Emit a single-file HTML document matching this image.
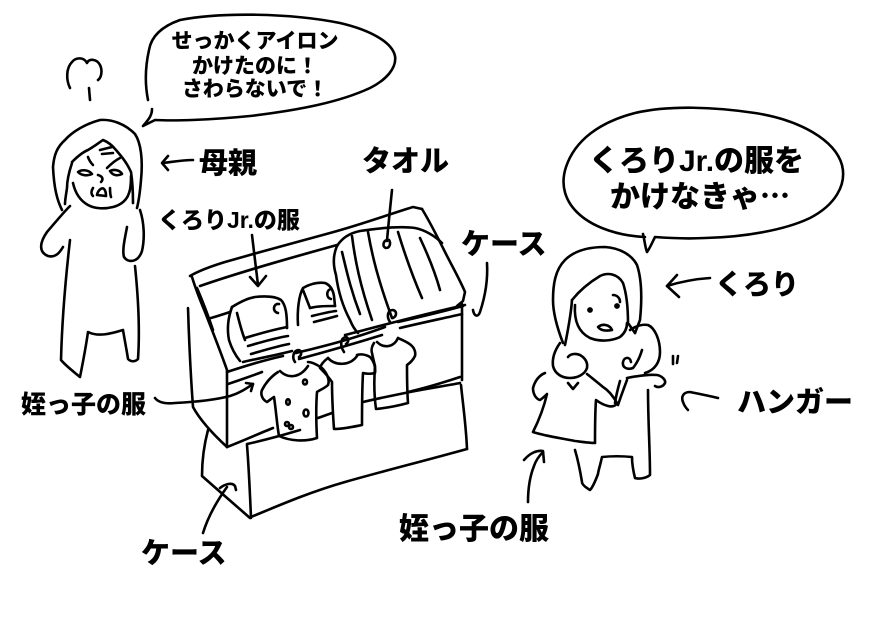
<!DOCTYPE html>
<html>
<head>
<meta charset="utf-8">
<style>
html,body{margin:0;padding:0;background:#fff;}
svg{display:block;}
text{font-family:"Liberation Sans","Noto Sans CJK JP",sans-serif;font-weight:900;fill:#000;}
</style>
</head>
<body>
<svg width="890" height="629" viewBox="0 0 890 629" xmlns="http://www.w3.org/2000/svg">
<rect x="0" y="0" width="890" height="629" fill="#fff"/>
<g fill="none" stroke="#000" stroke-width="2.6" stroke-linecap="round" stroke-linejoin="round">

<!-- Speech bubble 1 -->
<path d="M148,100 C145,85 145,68 149,50 C151,38 160,27 180,20 C220,12 290,13 340,23 C370,30 392,42 395,56 C397,68 386,80 370,88 C340,102 300,110 250,116 C210,120 175,121 155,120 L143,126 C148,120 152,116 152,109"/>

<!-- steam -->
<path d="M70,88 C66,80 66,68 72,62 C76,57 84,57 87,63 C89,58 97,59 100,65 C103,71 101,78 98,80"/>
<path d="M89,88 L90,100"/>

<!-- Mother -->
<path d="M62,210 C57,200 54,188 53,167 C54,155 57,147 65,140 C72,132 85,124 100,120 C112,119 125,124 135,134 C141,143 143,160 141,180 C140,192 139,200 137,208"/>
<path d="M72,162 C78,156 83,152 88,150 C95,146 100,142 103,140 C108,142 112,145 116,150 C122,157 127,163 131,172 C133,185 133,195 133,203"/>
<path d="M72,163 C69,172 67,180 67,188 C66,195 65,200 65,204"/>
<path d="M73,183 C75,192 79,200 88,205 C95,209 105,209 113,207 C121,205 127,200 129,193 C131,188 131,182 131,176"/>
<path d="M100,150 L112,147"/>
<path d="M102,154 L113,153"/>
<path d="M88,157 C89,160 91,163 93,165"/>
<path d="M107,168 C111,164 116,160 120,158"/>
<path d="M78,172 C82,169 89,170 92,174 C88,176 82,176 78,172 Z"/>
<path d="M110,171 C114,169 120,170 122,174 C118,176 113,176 110,171 Z"/>
<path d="M98,175 C102,176 104,179 101,182"/>
<path d="M93,188 C91,191 91,194 93,196"/>
<path d="M97,195 C98,190 102,187 104,189 C106,191 106,194 106,196 Z"/>
<path d="M110,188 C110,191 110,194 111,197"/>
<!-- mother arms/body -->
<path d="M70,206 C62,214 54,224 47,232 C40,242 38,252 48,256 C56,258 60,252 63,247"/>
<path d="M70,240 C66,275 62,320 61,360 C66,366 74,372 80,377 C83,362 86,346 88,332 C98,337 110,334 123,330 C125,342 127,352 128,359 C131,362 135,362 138,359 C140,330 138,295 135,266"/>
<path d="M127,227 C125,238 122,250 124,257 C128,263 138,263 142,251 C145,238 144,222 140,210"/>

<!-- arrow to mother -->
<path d="M193,160 C182,160 172,162 163,163"/>
<path d="M168,156 L162,163 L168,170"/>

<!-- Kurori Jr arrow -->
<path d="M252,235 C254,252 256,268 258,285"/>
<path d="M250,277 L258,286 L266,276"/>

<!-- towel tag line -->
<path d="M392,190 C390,210 388,228 387,241"/>
<path d="M387,240 C383,241 382,247 386,248 C390,248 391,243 389,240"/>

<!-- CASE upper -->
<path d="M190,276 C200,270 212,266 225,262 C260,252 300,241 330,233 C360,225 390,214 413,207 L422,209"/>
<path d="M200,286 C240,272 290,258 337,245"/>
<path d="M422,209 C430,222 438,238 445,252 C452,266 460,280 465,292 L463,301 L457,306"/>
<path d="M192,277 C196,290 200,300 205,312 C212,330 220,350 227,370"/>
<path d="M197,288 C203,302 208,315 213,330"/>
<path d="M188,308 C189,340 191,380 193,407 C200,420 214,435 227,447"/>
<path d="M227,370 L227,447"/>
<path d="M227,372 C245,366 265,360 283,356"/>
<path d="M228,384 C240,380 252,376 262,372"/>
<path d="M211,318 C218,316 224,314 230,312"/>
<path d="M227,447 C240,442 258,434 273,428"/>
<path d="M408,392 C425,388 445,382 460,377"/>
<path d="M462,304 C462,330 462,355 462,380"/>
<!-- CASE lower -->
<path d="M208,430 C204,445 202,460 202,476 C218,490 235,505 250,518"/>
<path d="M247,445 C249,470 250,495 251,518"/>
<path d="M247,444 C265,440 280,436 300,430"/>
<path d="M318,418 L332,413"/>
<path d="M363,402 C380,398 395,395 410,392 C430,388 445,386 460,383"/>
<path d="M461,385 C463,405 466,425 467,449"/>
<path d="M251,517 C280,505 310,492 345,482 C380,472 420,462 467,449"/>

<!-- folded clothes 1 -->
<path d="M232,307 C240,302 248,298 255,297 C265,296 275,296 281,300 C286,305 287,315 287,328"/>
<path d="M232,307 C228,318 227,330 229,340 C232,350 236,356 240,361"/>
<path d="M237,313 C240,325 243,335 245,340"/>
<path d="M245,338 C258,334 272,330 287,327"/>
<path d="M248,346 C262,342 275,338 288,336"/>
<path d="M251,354 C265,350 278,346 289,344"/>
<path d="M243,362 C260,358 277,355 292,351"/>
<path d="M279,304 C273,303 272,312 278,313"/>
<!-- folded clothes 2 -->
<path d="M298,325 C297,310 299,295 303,288 C310,284 318,282 325,283 C330,285 333,290 334,296 L335,306"/>
<path d="M303,290 L310,308"/>
<path d="M310,308 C318,306 326,306 335,306"/>
<path d="M312,316 C320,314 328,312 336,311"/>
<path d="M314,322 C322,320 330,318 337,316"/>
<path d="M331,289 C326,290 326,298 331,299"/>

<!-- towels -->
<path d="M337,246 C333,255 333,265 336,275 C338,290 342,305 350,320 C352,325 355,330 358,333"/>
<path d="M337,246 C342,238 350,233 360,231 C380,228 400,226 415,228 C425,230 435,236 442,243"/>
<path d="M352,236 C355,260 360,285 372,320"/>
<path d="M368,232 C372,255 378,280 392,318"/>
<path d="M398,232 C405,255 412,275 422,298"/>
<path d="M420,238 C428,255 435,272 440,290"/>
<path d="M342,252 C346,268 350,288 360,314"/>
<path d="M345,335 C380,326 420,315 465,305"/>

<!-- hanger rod -->
<path d="M296,353 C320,347 350,340 385,327"/>
<path d="M299,359 C325,352 350,345 382,335"/>
<path d="M398,322 C420,317 445,311 463,306"/>
<path d="M400,328 C425,322 445,318 462,314"/>

<!-- shirt 1 dotted -->
<path d="M278,372 C272,376 266,382 262,390 C260,395 263,400 267,402 C270,400 272,398 274,397 C276,410 277,425 279,436 C290,441 305,442 317,438 C316,420 316,405 317,392 C320,390 325,388 328,385 C330,380 327,373 322,368 C316,364 312,362 308,362"/>
<path d="M280,371 C288,379 300,378 308,366"/>
<path d="M295,362 C292,358 293,351 298,350 C302,350 302,355 299,357"/>
<ellipse cx="305" cy="382" rx="2" ry="2.5"/>
<ellipse cx="288" cy="402" rx="1.8" ry="2.8"/>
<ellipse cx="306" cy="413" rx="2.5" ry="3.5"/>
<ellipse cx="287" cy="424" rx="2" ry="2"/>
<ellipse cx="291" cy="427" rx="2" ry="2"/>

<!-- shirt 2 -->
<path d="M328,358 C324,361 321,364 320,368 C324,372 328,376 332,382 C332,398 333,415 334,429 C343,429 352,427 362,425 C362,408 362,390 363,373 C367,374 371,374 375,373 C376,366 373,360 370,357 C365,354 360,354 357,355"/>
<path d="M328,358 C335,366 350,366 357,356"/>
<path d="M344,352 C340,346 340,338 346,337 C349,338 349,342 346,344"/>

<!-- shirt 3 -->
<path d="M374,343 C372,346 371,350 372,353 C373,358 374,362 375,366 C374,380 374,395 376,409 C386,408 397,406 408,403 C407,390 407,375 407,365 C410,363 413,360 415,356 C416,352 414,348 412,346 C408,342 402,340 398,338"/>
<path d="M377,342 C384,349 394,347 398,338"/>
<path d="M390,322 C386,316 388,310 393,310 C397,311 397,316 393,318"/>

<!-- case arrow upper right -->
<path d="M487,263 C488,280 485,297 480,312 C478,318 474,316 473,310"/>

<!-- left 姪っ子 arrow -->
<path d="M155,398 C158,402 165,404 175,403 C195,402 215,400 230,396 C240,393 247,388 253,384"/>
<path d="M246,383 L253,384 L251,391"/>

<!-- bottom-left case arrow -->
<path d="M203,533 C207,520 214,505 227,487"/>
<path d="M220,488 C225,484 232,482 235,486 L236,490"/>

<!-- Speech bubble 2 -->
<path d="M645,237 C620,236 595,228 580,215 C565,202 560,185 566,167 C575,140 600,122 635,113 C670,105 715,107 755,113 C800,120 835,140 842,165 C847,185 835,205 810,218 C785,230 745,237 705,238 C685,239 668,238 655,237 C652,243 650,248 647,252 C645,247 645,242 643,234"/>

<!-- Kurori -->
<path d="M563,343 C558,330 553,315 553,300 C553,285 555,270 565,260 C575,250 590,247 605,247 C620,248 632,255 637,265 C642,280 642,300 640,320 L635,333"/>
<path d="M572,300 C580,290 590,282 600,276 C608,272 618,274 623,283 C627,295 628,310 628,323 L635,333"/>
<path d="M572,300 C571,315 568,330 565,345"/>
<path d="M575,305 C574,320 578,332 590,338 C600,342 612,341 620,337 C625,333 627,328 627,323"/>
<circle cx="590" cy="310" r="1.6" fill="#000"/>
<circle cx="617" cy="306" r="1.6" fill="#000"/>
<path d="M613,295 C617,295 620,298 620,302"/>
<path d="M598,327 C603,323 610,325 612,330 C607,331 601,331 598,327 Z"/>
<path d="M560,343 C555,350 552,358 553,366 C555,374 562,378 570,378 C578,378 585,374 587,368 C588,362 585,358 580,355 C575,353 570,354 568,357"/>
<path d="M630,330 C636,326 642,324 648,325 C655,328 660,340 660,352 C660,362 655,370 645,373"/>
<path d="M642,350 C640,357 637,363 633,368 C628,370 622,368 623,362 C624,357 630,356 631,362"/>
<path d="M627,378 C637,376 648,374 657,375 C662,376 666,380 665,383 C663,387 658,388 655,386"/>
<path d="M627,380 C624,388 621,396 618,405"/>
<path d="M620,381 C618,388 616,396 615,403"/>
<path d="M545,373 C540,375 535,380 533,388 C533,394 536,399 540,400 C543,398 545,396 547,394 C544,407 539,420 533,432 C545,436 560,438 575,441 C583,442 590,443 595,443 C595,428 595,413 596,400 C600,403 604,405 608,406 C612,407 616,406 617,403 C613,396 608,390 603,387 C597,382 592,378 587,374"/>
<path d="M568,383 L573,389 L578,383"/>
<path d="M648,390 C648,420 650,450 650,475 C645,479 638,479 635,478 C633,470 632,463 632,457 C622,456 612,456 602,457 C600,466 598,472 598,474 C595,482 592,488 590,490 C585,487 582,484 582,482 C580,470 578,460 575,450"/>
<path d="M673,356 L673,364"/>
<path d="M678,356 L677,363"/>

<!-- right arrows -->
<path d="M710,278 C695,279 680,282 667,286"/>
<path d="M677,275 L667,286 L679,297"/>
<path d="M718,398 C710,396 700,394 690,392 C683,392 681,397 683,402 C684,405 686,408 688,410"/>
<path d="M528,502 C528,488 530,476 534,466 C536,460 540,455 543,452"/>
<path d="M524,460 C530,453 537,450 543,451 L544,462"/>
</g>

<!-- TEXT -->
<text x="255" y="48" font-size="21" text-anchor="middle">せっかくアイロン</text>
<text x="255" y="73" font-size="21" text-anchor="middle">かけたのに！</text>
<text x="255" y="96" font-size="21" text-anchor="middle">さわらないで！</text>

<text x="199" y="173" font-size="29">母親</text>
<text x="362" y="171" font-size="29">タオル</text>
<text x="158" y="228" font-size="23">くろりJr.の服</text>
<text x="461" y="254" font-size="29">ケース</text>

<text x="589" y="171" font-size="30">くろりJr.の服を</text>
<text x="610" y="207" font-size="30">かけなきゃ<tspan font-family="Noto Sans CJK JP, sans-serif">…</tspan></text>

<text x="715" y="294" font-size="28">くろり</text>
<text x="737" y="412" font-size="29">ハンガー</text>
<text x="21" y="413" font-size="25">姪っ子の服</text>
<text x="399" y="539" font-size="30">姪っ子の服</text>
<text x="141" y="563" font-size="29">ケース</text>
</svg>
</body>
</html>
